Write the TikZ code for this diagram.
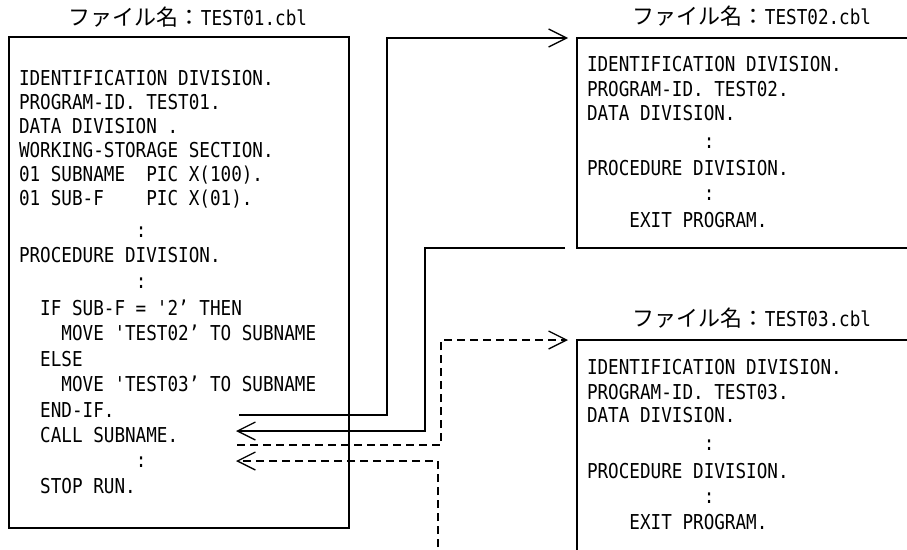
\documentclass[tikz,border=0pt]{standalone}
\usepackage{fontspec}
\newfontfamily\codefont[FakeStretch=0.86]{DejaVu Sans Mono}
\newfontfamily\jpfont{Noto Sans CJK JP}
\usetikzlibrary{arrows.meta}
\begin{document}
\begin{tikzpicture}[x=1pt,y=-1pt,
  codeline/.style={anchor=base west, inner sep=0pt, outer sep=0pt,
    font=\codefont\fontsize{20.5pt}{24pt}\selectfont},
  titletext/.style={anchor=base, inner sep=0pt, outer sep=0pt,
    font=\codefont\fontsize{20.5pt}{24pt}\selectfont},
  filebox/.style={draw, rectangle, line width=1.4pt, inner sep=0pt, outer sep=0pt, anchor=north west},
  conn/.style={line width=1.3pt, -{Straight Barb[length=18pt,width=18pt]}},
  dconn/.style={conn, dash pattern=on 8pt off 5pt}]
\useasboundingbox (0,0) rectangle (907,549);
\fill[white] (0,0) rectangle (907,549);
\clip (0,0) rectangle (907,549);

% titles
\node[titletext] (t1) at (188,25) {{\jpfont\fontsize{22pt}{24pt}\selectfont ファイル名：}TEST01.cbl};
\node[titletext] (t2) at (752,24) {{\jpfont\fontsize{22pt}{24pt}\selectfont ファイル名：}TEST02.cbl};
\node[titletext] (t3) at (752,326) {{\jpfont\fontsize{22pt}{24pt}\selectfont ファイル名：}TEST03.cbl};

% boxes
\node[filebox, minimum width=340pt, minimum height=491pt] (box1) at (9,37) {};
\node[filebox, minimum width=400pt, minimum height=210pt] (box2) at (577,38) {};
\node[filebox, minimum width=400pt, minimum height=260pt] (box3) at (577,340) {};

% TEST01 source
\node[codeline] (a1) at (19,85) {IDENTIFICATION DIVISION.};
\node[codeline] (a2) at (19,109) {PROGRAM-ID. TEST01.};
\node[codeline] (a3) at (19,133) {DATA DIVISION .};
\node[codeline] (a4) at (19,157) {WORKING-STORAGE SECTION.};
\node[codeline] (a5) at (19,181) {01 SUBNAME~~PIC X(100).};
\node[codeline] (a6) at (19,205) {01 SUB-F~~~~PIC X(01).};
\node[codeline] (a7) at (19,237) {~~~~~~~~~~~:};
\node[codeline] (a8) at (19,262) {PROCEDURE DIVISION.};
\node[codeline] (a9) at (19,288) {~~~~~~~~~~~:};
\node[codeline] (a10) at (19,315) {~~IF SUB-F = '2’ THEN};
\node[codeline] (a11) at (19,340) {~~~~MOVE 'TEST02’ TO SUBNAME};
\node[codeline] (a12) at (19,366) {~~ELSE};
\node[codeline] (a13) at (19,391) {~~~~MOVE 'TEST03’ TO SUBNAME};
\node[codeline] (a14) at (19,417) {~~END-IF.};
\node[codeline] (a15) at (19,442) {~~CALL SUBNAME.};
\node[codeline] (a16) at (19,467) {~~~~~~~~~~~:};
\node[codeline] (a17) at (19,493) {~~STOP RUN.};

% TEST02 source
\node[codeline] (b1) at (587,71) {IDENTIFICATION DIVISION.};
\node[codeline] (b2) at (587,96) {PROGRAM-ID. TEST02.};
\node[codeline] (b3) at (587,120) {DATA DIVISION.};
\node[codeline] (b4) at (587,148) {~~~~~~~~~~~:};
\node[codeline] (b5) at (587,175) {PROCEDURE DIVISION.};
\node[codeline] (b6) at (587,200) {~~~~~~~~~~~:};
\node[codeline] (b7) at (587,227) {~~~~EXIT PROGRAM.};

% TEST03 source
\node[codeline] (c1) at (587,374) {IDENTIFICATION DIVISION.};
\node[codeline] (c2) at (587,399) {PROGRAM-ID. TEST03.};
\node[codeline] (c3) at (587,422) {DATA DIVISION.};
\node[codeline] (c4) at (587,450) {~~~~~~~~~~~:};
\node[codeline] (c5) at (587,478) {PROCEDURE DIVISION.};
\node[codeline] (c6) at (587,503) {~~~~~~~~~~~:};
\node[codeline] (c7) at (587,529) {~~~~EXIT PROGRAM.};

% connector ends
\coordinate (p1) at (239,415);
\coordinate (q2) at (236,431);
\coordinate (p3) at (237,445);
\coordinate (q4) at (236,461);
\coordinate (p4) at (438,560);

\draw[conn] (p1) -| (387,38) -- ([xshift=-9pt]box2.north west);
\draw[conn] ([xshift=-12pt]box2.south west) -| (425,431) -- (q2);
\draw[dconn] (p3) -| (441,340) -- ([xshift=-9pt]box3.north west);
\draw[dconn] (p4) |- (q4);
\end{tikzpicture}
\end{document}
